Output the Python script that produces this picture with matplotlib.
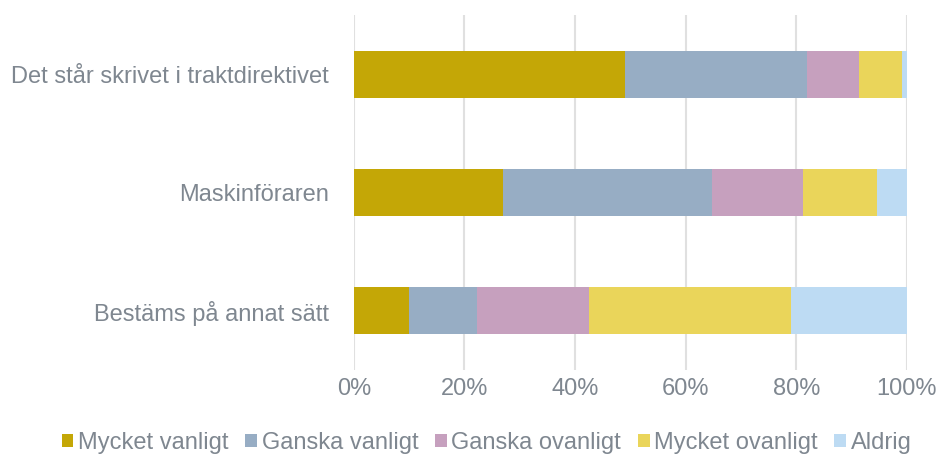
import numpy as np
import matplotlib.pyplot as plt

categories = ['Det står skrivet i traktdirektivet', 'Maskinföraren', 'Bestäms på annat sätt']
series = ['Mycket vanligt', 'Ganska vanligt', 'Ganska ovanligt', 'Mycket ovanligt', 'Aldrig']
mycket_vanligt = [49.0, 26.9, 9.9]
ganska_vanligt = [32.9, 37.9, 12.3]
ganska_ovanligt = [9.5, 16.4, 20.3]
mycket_ovanligt = [7.7, 13.3, 36.6]
aldrig = [0.9, 5.5, 20.9]
colors = ['#C4A706', '#97ADC4', '#C6A0BE', '#EAD55A', '#BDDBF3']

values = [mycket_vanligt, ganska_vanligt, ganska_ovanligt, mycket_ovanligt, aldrig]
text_color = '#7f8790'

plt.rcParams['font.family'] = ['Liberation Sans', 'DejaVu Sans']

fig = plt.figure(figsize=(9.36, 4.59), dpi=100)
ax = fig.add_axes([0.378, 0.194, 0.591, 0.773])

y = np.arange(len(categories))
left = np.zeros(len(categories))
for name, vals, col in zip(series, values, colors):
    vals = np.array(vals) / 100.0
    ax.barh(y, vals, left=left, height=0.4, color=col, label=name, zorder=3)
    left += vals

ax.set_ylim(2.5, -0.5)
ax.set_xlim(0, 1)
ax.set_yticks(y)
ax.set_yticklabels(categories)
ax.set_xticks(np.linspace(0, 1, 6))
ax.set_xticklabels(['0%', '20%', '40%', '60%', '80%', '100%'])
ax.tick_params(axis='both', length=0, labelsize=17, colors=text_color)
ax.tick_params(axis='y', pad=18)
ax.tick_params(axis='x', pad=6)
ax.grid(axis='x', color='#e0e0e0', linewidth=1.5, zorder=0)
for s in ax.spines.values():
    s.set_visible(False)

leg = fig.legend(loc='lower center', bbox_to_anchor=(0.52, -0.035), ncol=5, frameon=False,
                 fontsize=17, handlelength=0.5, handleheight=0.5, handletextpad=0.2,
                 columnspacing=0.7)
for t in leg.get_texts():
    t.set_color(text_color)

fig.savefig('out.png', dpi=100)
